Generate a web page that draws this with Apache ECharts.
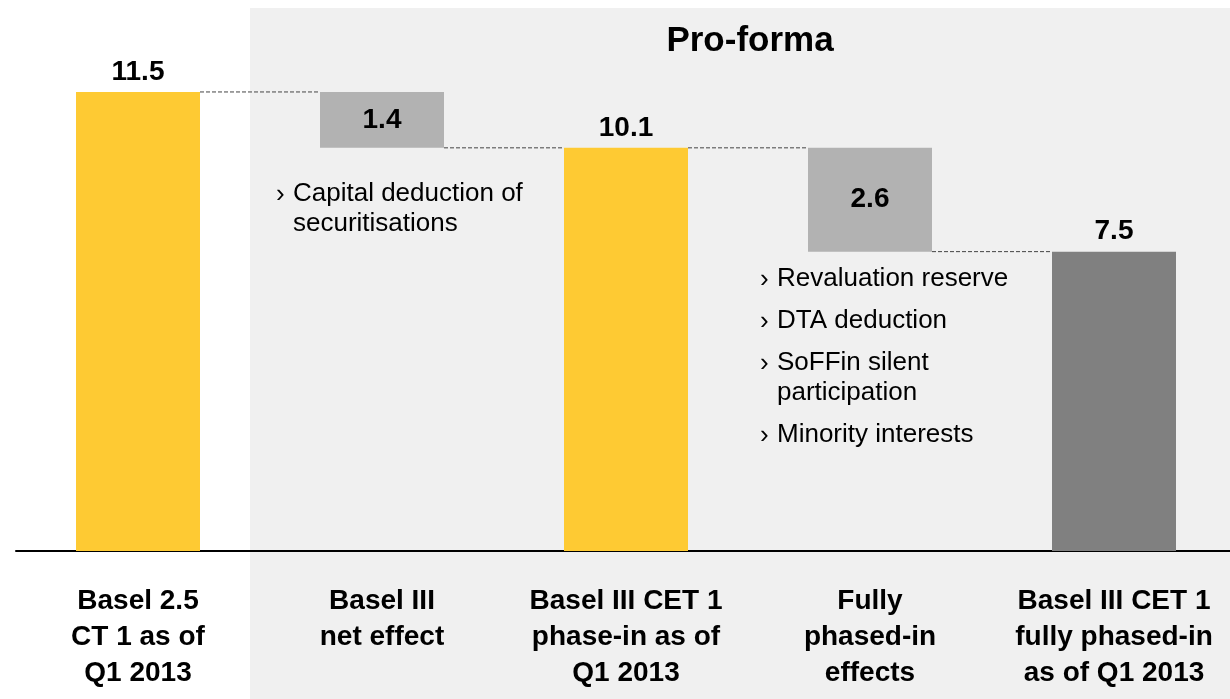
<!DOCTYPE html>
<html>
<head>
<meta charset="utf-8">
<script src="https://cdn.jsdelivr.net/npm/echarts@6/dist/echarts.min.js"></script>
<style>
	html, body { margin: 0; padding: 0; background: #fff; }
	#chart { width: 1230px; height: 699px; }
</style>
</head>
<body>
<div id="chart"></div>
<script>
// chart data
const categories = [
	'Basel 2.5\nCT 1 as of\nQ1 2013',
	'Basel III\nnet effect',
	'Basel III CET 1\nphase-in as of\nQ1 2013',
	'Fully\nphased-in\neffects',
	'Basel III CET 1\nfully phased-in\nas of Q1 2013',
];
const amounts = [11.5, -1.4, 10.1, -2.6, 7.5];
const isTotal = [true, false, true, false, true];
const barColors = ['#FECA33', '#B2B2B2', '#FECA33', '#B2B2B2', '#808080'];
const panelTitle = 'Pro-forma';
const leftNotes = ['Capital deduction of\nsecuritisations'];
const rightNotes = ['Revaluation reserve', 'DTA deduction', 'SoFFin silent\nparticipation', 'Minority interests'];

const FONT = 'Arial, "Liberation Sans", Helvetica, sans-serif';
const BAR_W = 124;

// build waterfall base / height / connector levels
const baseData = [];
const heightData = [];
const levels = [];
let running = 0;
amounts.forEach((v, i) => {
	if (isTotal[i]) {
		baseData.push(0);
		heightData.push(v);
		running = v;
	} else {
		running = running + v;
		baseData.push(running);
		heightData.push(-v);
	}
	levels.push(running);
});
const connectors = levels.slice(0, -1).map((lv, i) => [i, lv]);

// annotation text elements
function noteElements(notes, x, top) {
	const els = [];
	let y = top;
	notes.forEach((note) => {
		const lines = note.split('\n').length;
		els.push({
			type: 'text', left: x, top: y + 1,
			style: { text: '›', fontFamily: FONT, fontSize: 26, fill: '#000', lineHeight: 30 },
		});
		els.push({
			type: 'text', left: x + 17, top: y,
			style: { text: note, fontFamily: FONT, fontSize: 26, fill: '#000', lineHeight: 30 },
		});
		y += 42 + 30 * (lines - 1);
	});
	return els;
}

const chart = echarts.init(document.getElementById('chart'));

const option = {
	animation: false,
	backgroundColor: '#fff',
	graphic: [
		{
			type: 'rect', left: 250, top: 8, z: -10,
			shape: { width: 980, height: 691 },
			style: { fill: '#F0F0F0' },
		},
		{
			type: 'text', x: 750, y: 41,
			style: { text: panelTitle, fontFamily: FONT, fontWeight: 'bold', fontSize: 35, fill: '#000', align: 'center', verticalAlign: 'middle' },
		},
		...noteElements(leftNotes, 276, 179),
		...noteElements(rightNotes, 760, 264),
	],
	grid: { left: 16, width: 1220, top: 72, bottom: 148, outerBoundsMode: 'none' },
	xAxis: {
		type: 'category',
		data: categories,
		axisLine: { lineStyle: { color: '#000', width: 2 } },
		axisTick: { show: false },
		axisLabel: {
			interval: 0,
			margin: 32,
			color: '#000',
			fontFamily: FONT,
			fontWeight: 'bold',
			fontSize: 28,
			lineHeight: 36,
		},
	},
	yAxis: { type: 'value', min: 0, max: 12, show: false, splitLine: { show: false } },
	series: [
		{
			type: 'bar', stack: 'w', barWidth: BAR_W, silent: true,
			itemStyle: { color: 'transparent' },
			data: baseData,
		},
		{
			type: 'bar', stack: 'w', barWidth: BAR_W,
			data: heightData.map((v, i) => ({
				value: v,
				itemStyle: { color: barColors[i] },
				label: {
					show: true,
					position: isTotal[i] ? 'top' : 'inside',
					distance: 6,
					formatter: Math.abs(amounts[i]).toFixed(1),
					color: '#000',
					fontFamily: FONT,
					fontWeight: 'bold',
					fontSize: 28,
				},
			})),
		},
		{
			type: 'custom',
			z: 5,
			silent: true,
			data: connectors,
			renderItem: (params, api) => {
				const p = api.coord([api.value(0), api.value(1)]);
				const band = api.size([1, 0])[0];
				return {
					type: 'line',
					shape: { x1: p[0] + BAR_W / 2, y1: p[1], x2: p[0] + band - BAR_W / 2, y2: p[1] },
					style: { stroke: '#444', lineWidth: 1, lineDash: [4, 2] },
				};
			},
		},
	],
};

chart.setOption(option);
</script>
</body>
</html>
